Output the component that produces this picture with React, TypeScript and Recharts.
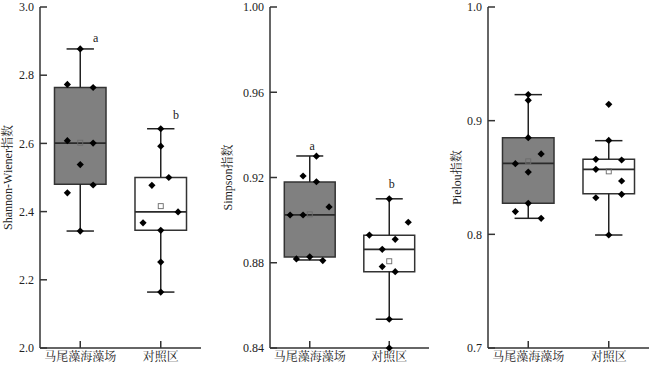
import React from 'react';
import {
  ComposedChart,
  XAxis,
  YAxis,
  Scatter,
  ReferenceArea,
  ReferenceLine,
  ReferenceDot,
} from 'recharts';

const FONT =
  '"Liberation Serif", "Times New Roman", "Noto Serif CJK SC", "Noto Sans CJK SC", serif';

const categories = ['马尾藻海藻场', '对照区'];

// ---------- Shannon-Wiener ----------
const shannonValues = [
  [2.877, 2.773, 2.764, 2.608, 2.601, 2.538, 2.478, 2.455, 2.343],
  [2.643, 2.592, 2.5, 2.477, 2.399, 2.367, 2.345, 2.252, 2.164],
];
const shannonJitter = [
  [0, -0.16, 0.16, -0.16, 0.16, 0, 0.16, -0.16, 0],
  [0, 0, 0.1, -0.11, 0.215, -0.22, 0, 0, 0],
];
// [whiskerLow, Q1, median, Q3, whiskerHigh]
const shannonBoxes = [
  [2.343, 2.48, 2.601, 2.764, 2.877],
  [2.164, 2.345, 2.399, 2.5, 2.643],
];
const shannonMeans = [2.602, 2.416];
const shannonLetters = ['a', 'b'];
const shannonLetterY = [2.909, 2.683];
const shannonTicks = [2.0, 2.2, 2.4, 2.6, 2.8, 3.0];

// ---------- Simpson ----------
const simpsonValues = [
  [0.93, 0.9207, 0.918, 0.9062, 0.9024, 0.9024, 0.8828, 0.8818, 0.881],
  [0.91, 0.899, 0.893, 0.891, 0.8863, 0.8782, 0.8758, 0.8535, 0.84],
];
const simpsonJitter = [
  [0.084, -0.084, 0.084, 0.243, -0.247, -0.084, 0, -0.168, 0.164],
  [0, 0.239, -0.25, 0.075, -0.088, -0.088, 0.075, 0, 0],
];
const simpsonBoxes = [
  [0.8813, 0.8827, 0.9025, 0.9179, 0.9301],
  [0.8535, 0.8758, 0.8863, 0.8929, 0.91],
];
const simpsonMeans = [0.9027, 0.8807];
const simpsonLetters = ['a', 'b'];
const simpsonLetterY = [0.9349, 0.917];
const simpsonTicks = [0.84, 0.88, 0.92, 0.96, 1.0];

// ---------- Pielou ----------
const pielouValues = [
  [0.923, 0.9179, 0.885, 0.8707, 0.8622, 0.8548, 0.8273, 0.82, 0.8141],
  [0.9144, 0.8826, 0.866, 0.8654, 0.8572, 0.8469, 0.8352, 0.8322, 0.7994],
];
const pielouJitter = [
  [0, 0, 0, 0.16, -0.16, 0, 0, -0.16, 0.16],
  [0, 0, -0.16, 0.16, -0.16, 0.16, 0.16, -0.16, 0],
];
const pielouBoxes = [
  [0.8141, 0.8273, 0.8625, 0.885, 0.9229],
  [0.7994, 0.8357, 0.8572, 0.866, 0.8824],
];
const pielouMeans = [0.8642, 0.8554];
const pielouLetters: string[] = [];
const pielouLetterY: number[] = [];
const pielouTicks = [0.7, 0.8, 0.9, 1.0];

const AXIS = '#333333';
const BOX_FILLS = ['#808080', '#ffffff'];
const BOX_HALF = 0.32;
const CAP_HALF = 0.17;

const Diamond = (props: any) => {
  const { cx, cy } = props;
  if (cx == null || cy == null) return null;
  const r = 3.6;
  return (
    <path
      d={`M${cx},${cy - r}L${cx + r},${cy}L${cx},${cy + r}L${cx - r},${cy}Z`}
      fill="#000"
      stroke="none"
    />
  );
};

const MeanSquare = (props: any) => {
  const { cx, cy } = props;
  if (cx == null || cy == null) return null;
  const s = 2.5;
  return (
    <rect
      x={cx - s}
      y={cy - s}
      width={2 * s}
      height={2 * s}
      fill="none"
      stroke="#6a6a6a"
      strokeWidth={0.9}
    />
  );
};

type PanelProps = {
  values: number[][];
  jitter: number[][];
  boxes: number[][];
  means: number[];
  letters: string[];
  letterY: number[];
  letterDx: number[];
  ticks: number[];
  decimals: number;
  title: string;
  left: number;
  width: number;
  yAxisWidth: number;
  marginRight: number;
  titleOffset: number;
};

const Panel = (p: PanelProps) => {
  const domain: [number, number] = [p.ticks[0], p.ticks[p.ticks.length - 1]];
  const points = p.values.flatMap((grp, i) =>
    grp.map((v, j) => ({ x: i + 0.5 + p.jitter[i][j], y: v }))
  );
  const meanPts = p.means.map((m, i) => ({ x: i + 0.5, y: m }));
  const tickStyle = { fill: '#222', fontSize: 12, fontFamily: FONT };
  const lineStyle = { stroke: AXIS, strokeWidth: 1.5 };

  return (
    <div style={{ position: 'absolute', left: p.left, top: 0 }}>
      <ComposedChart
        width={p.width}
        height={367}
        margin={{ top: 7, right: p.marginRight, bottom: 0, left: 0 }}
      >
        <XAxis
          xAxisId="b"
          dataKey="x"
          type="number"
          domain={[0, 2]}
          ticks={[0.5, 1.5]}
          tickFormatter={(v: number) => categories[Math.round(v - 0.5)]}
          height={19}
          tickSize={-7}
          tickMargin={11}
          axisLine={lineStyle}
          tickLine={lineStyle}
          tick={tickStyle}
          interval={0}
        />
        <XAxis
          xAxisId="t"
          orientation="top"
          dataKey="x"
          type="number"
          domain={[0, 2]}
          ticks={[0.5, 1.5]}
          height={0}
          tickSize={-3}
          axisLine={lineStyle}
          tickLine={{ stroke: AXIS, strokeWidth: 1 }}
          tick={false}
        />
        <YAxis
          yAxisId="l"
          type="number"
          domain={domain}
          ticks={p.ticks}
          width={p.yAxisWidth}
          tickSize={-7}
          tickMargin={13}
          tickFormatter={(v: number) => v.toFixed(p.decimals)}
          axisLine={lineStyle}
          tickLine={lineStyle}
          tick={tickStyle}
          interval={0}
          label={{
            value: p.title,
            angle: -90,
            position: 'insideLeft',
            offset: p.titleOffset,
            style: { textAnchor: 'middle', fill: '#222', fontSize: 12, fontFamily: FONT },
          }}
        />
        <YAxis
          yAxisId="r"
          orientation="right"
          type="number"
          domain={domain}
          ticks={p.ticks}
          width={0}
          tickSize={-3}
          axisLine={lineStyle}
          tickLine={{ stroke: AXIS, strokeWidth: 1 }}
          tick={false}
        />

        {p.boxes.map((b, i) => {
          const cx = i + 0.5;
          const [wl, q1, med, q3, wh] = b;
          const wStyle = { stroke: '#222', strokeWidth: 1.5 };
          return (
            <React.Fragment key={`box${i}`}>
              <ReferenceLine
                xAxisId="b"
                yAxisId="l"
                segment={[{ x: cx, y: wl }, { x: cx, y: q1 }]}
                {...wStyle}
              />
              <ReferenceLine
                xAxisId="b"
                yAxisId="l"
                segment={[{ x: cx, y: q3 }, { x: cx, y: wh }]}
                {...wStyle}
              />
              <ReferenceLine
                xAxisId="b"
                yAxisId="l"
                segment={[{ x: cx - CAP_HALF, y: wl }, { x: cx + CAP_HALF, y: wl }]}
                {...wStyle}
              />
              <ReferenceLine
                xAxisId="b"
                yAxisId="l"
                segment={[{ x: cx - CAP_HALF, y: wh }, { x: cx + CAP_HALF, y: wh }]}
                {...wStyle}
              />
              <ReferenceArea
                xAxisId="b"
                yAxisId="l"
                x1={cx - BOX_HALF}
                x2={cx + BOX_HALF}
                y1={q1}
                y2={q3}
                fill={BOX_FILLS[i]}
                fillOpacity={1}
                stroke="#333"
                strokeWidth={1.5}
              />
              <ReferenceLine
                xAxisId="b"
                yAxisId="l"
                segment={[{ x: cx - BOX_HALF, y: med }, { x: cx + BOX_HALF, y: med }]}
                stroke="#2a2a2a"
                strokeWidth={1.8}
              />
            </React.Fragment>
          );
        })}

        <Scatter
          xAxisId="b"
          yAxisId="l"
          data={meanPts}
          dataKey="y"
          shape={MeanSquare}
          isAnimationActive={false}
        />
        <Scatter
          xAxisId="b"
          yAxisId="l"
          data={points}
          dataKey="y"
          shape={Diamond}
          isAnimationActive={false}
        />

        {p.letters.map((l, i) => (
          <ReferenceDot
            key={`lt${i}`}
            xAxisId="b"
            yAxisId="l"
            x={i + 0.5 + p.letterDx[i]}
            y={p.letterY[i]}
            r={0}
            fill="none"
            stroke="none"
            label={{
              value: l,
              position: 'center',
              fill: '#222',
              fontSize: 12,
              fontFamily: FONT,
            }}
          />
        ))}
      </ComposedChart>
    </div>
  );
};

export default function App() {
  return (
    <div
      style={{
        position: 'absolute',
        left: 0,
        top: 0,
        width: 650,
        height: 367,
        background: '#fff',
        fontFamily: FONT,
      }}
    >
      <Panel
        values={shannonValues}
        jitter={shannonJitter}
        boxes={shannonBoxes}
        means={shannonMeans}
        letters={shannonLetters}
        letterY={shannonLetterY}
        letterDx={[0.19, 0.19]}
        ticks={shannonTicks}
        decimals={1}
        title="Shannon-Wiener指数"
        left={0}
        width={205}
        yAxisWidth={40}
        marginRight={4}
        titleOffset={7.5}
      />
      <Panel
        values={simpsonValues}
        jitter={simpsonJitter}
        boxes={simpsonBoxes}
        means={simpsonMeans}
        letters={simpsonLetters}
        letterY={simpsonLetterY}
        letterDx={[0.03, 0.03]}
        ticks={simpsonTicks}
        decimals={2}
        title="Simpson指数"
        left={215}
        width={218}
        yAxisWidth={55}
        marginRight={4}
        titleOffset={13}
      />
      <Panel
        values={pielouValues}
        jitter={pielouJitter}
        boxes={pielouBoxes}
        means={pielouMeans}
        letters={pielouLetters}
        letterY={pielouLetterY}
        letterDx={[0, 0]}
        ticks={pielouTicks}
        decimals={1}
        title="Pielou指数"
        left={430}
        width={220}
        yAxisWidth={58}
        marginRight={1}
        titleOffset={27}
      />
    </div>
  );
}
